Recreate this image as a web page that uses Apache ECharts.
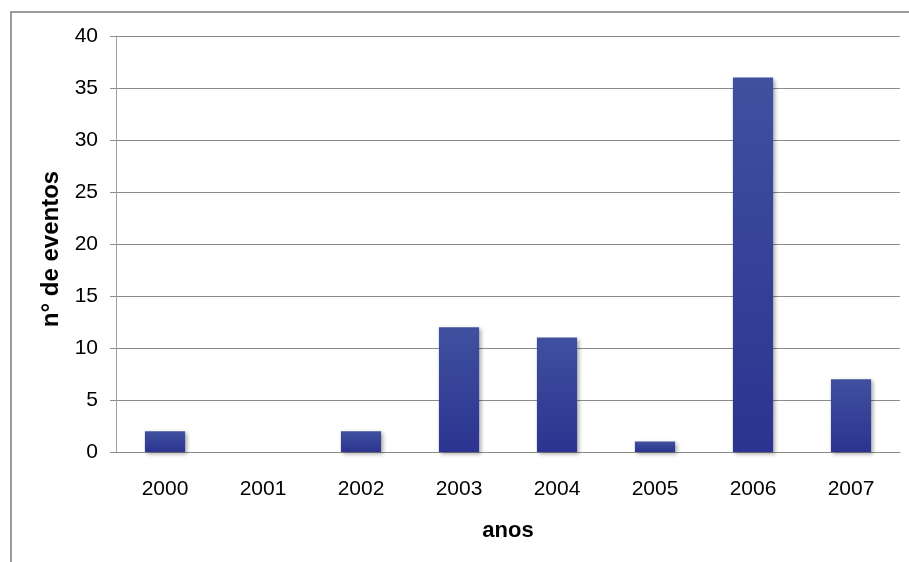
<!DOCTYPE html>
<html>
<head>
<meta charset="utf-8">
<script src="https://cdn.jsdelivr.net/npm/echarts@6/dist/echarts.min.js"></script>
<style>
  html, body { margin: 0; padding: 0; background: #fff; }
  #chart { width: 909px; height: 562px; }
</style>
</head>
<body>
<div id="chart"></div>
<script>
// Events per year
const years = ['2000', '2001', '2002', '2003', '2004', '2005', '2006', '2007'];
const eventCounts = [2, 0, 2, 12, 11, 1, 36, 7];
const yTicks = { min: 0, max: 40, interval: 5 };

const FONT = '"Liberation Sans", Arial, sans-serif';

const chart = echarts.init(document.getElementById('chart'), null, { renderer: 'canvas' });

chart.setOption({
  backgroundColor: '#ffffff',
  animation: false,
  graphic: [{
    type: 'rect',
    shape: { x: 11, y: 12, width: 1000, height: 700 },
    style: { fill: 'none', stroke: '#9a9a9a', lineWidth: 2 },
    silent: true
  }],
  grid: { left: 116, right: 9, top: 36, bottom: 110 },
  xAxis: {
    type: 'category',
    data: years,
    name: 'anos',
    nameLocation: 'middle',
    nameGap: 68,
    nameTextStyle: { fontFamily: FONT, fontSize: 22, fontWeight: 'bold', color: '#000' },
    axisLine: { show: true, lineStyle: { color: '#8c8c8c', width: 1 } },
    axisTick: { show: false },
    axisLabel: { fontFamily: FONT, fontSize: 21, color: '#000', margin: 27 }
  },
  yAxis: {
    type: 'value',
    min: yTicks.min,
    max: yTicks.max,
    interval: yTicks.interval,
    name: 'n° de eventos',
    nameLocation: 'middle',
    nameGap: 48,
    nameRotate: 90,
    nameTextStyle: { fontFamily: FONT, fontSize: 24, fontWeight: 'bold', color: '#000', padding: [0, 10, 0, 0] },
    axisLine: { show: true, lineStyle: { color: '#a0a0a0', width: 1 } },
    axisTick: { show: true, length: 6, lineStyle: { color: '#8c8c8c' } },
    axisLabel: { fontFamily: FONT, fontSize: 21, color: '#000', margin: 18 },
    splitLine: { show: true, lineStyle: { color: '#8c8c8c', width: 1 } }
  },
  series: [{
    type: 'bar',
    data: eventCounts,
    barWidth: '41%',
    itemStyle: {
      color: new echarts.graphic.LinearGradient(0, 0, 0, 1, [
        { offset: 0, color: '#40509f' },
        { offset: 1, color: '#2b3490' }
      ]),
      shadowColor: 'rgba(0,0,0,0.35)',
      shadowBlur: 4,
      shadowOffsetX: 2,
      shadowOffsetY: 2
    }
  }]
});
</script>
</body>
</html>
